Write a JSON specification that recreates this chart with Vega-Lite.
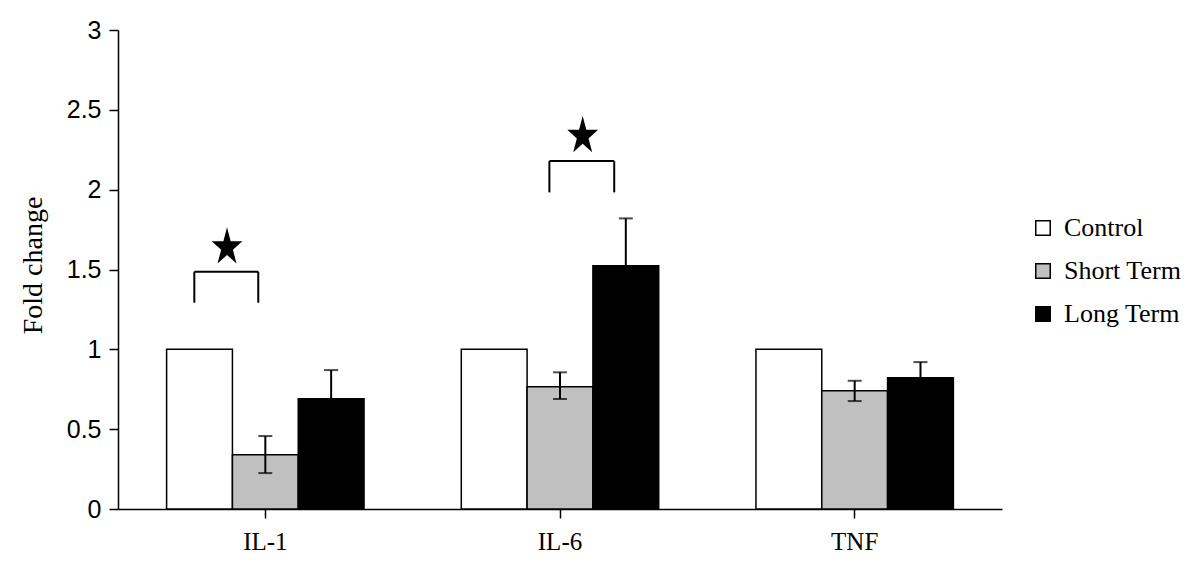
{
  "$schema": "https://vega.github.io/schema/vega-lite/v6.json",
  "width": 884,
  "height": 479,
  "autosize": {"type": "none"},
  "padding": {"left": 118, "top": 30, "right": 198, "bottom": 70},
  "background": "white",
  "config": {
    "view": {"stroke": null},
    "axis": {"grid": false, "domainColor": "black", "tickColor": "black", "labelColor": "black", "titleColor": "black", "domainWidth": 1.5, "tickWidth": 1.5}
  },
  "datasets": {
    "bars": [
      {"gene": "IL-1", "group": "Control", "value": 1},
      {"gene": "IL-1", "group": "Short Term", "value": 0.34, "lo": 0.225, "hi": 0.457},
      {"gene": "IL-1", "group": "Long Term", "value": 0.69, "lo": 0.51, "hi": 0.87},
      {"gene": "IL-6", "group": "Control", "value": 1},
      {"gene": "IL-6", "group": "Short Term", "value": 0.766, "lo": 0.689, "hi": 0.856},
      {"gene": "IL-6", "group": "Long Term", "value": 1.523, "lo": 1.226, "hi": 1.82},
      {"gene": "TNF", "group": "Control", "value": 1},
      {"gene": "TNF", "group": "Short Term", "value": 0.741, "lo": 0.676, "hi": 0.803},
      {"gene": "TNF", "group": "Long Term", "value": 0.822, "lo": 0.724, "hi": 0.92}
    ],
    "brackets": [
      {"x": 0.259, "x2": 0.476, "y": 1.486, "y2": 1.486},
      {"x": 0.259, "x2": 0.259, "y": 1.292, "y2": 1.486},
      {"x": 0.476, "x2": 0.476, "y": 1.292, "y2": 1.486},
      {"x": 1.464, "x2": 1.684, "y": 2.179, "y2": 2.179},
      {"x": 1.464, "x2": 1.464, "y": 1.983, "y2": 2.179},
      {"x": 1.684, "x2": 1.684, "y": 1.983, "y2": 2.179}
    ],
    "stars": [
      {"x": 0.37, "y": 1.639},
      {"x": 1.577, "y": 2.336}
    ]
  },
  "layer": [
    {
      "data": {"name": "bars"},
      "layer": [
        {
          "mark": {"type": "bar", "stroke": "black", "strokeWidth": 1.5},
          "encoding": {
            "x": {"field": "gene", "type": "nominal", "sort": ["IL-1", "IL-6", "TNF"], "scale": {"paddingInner": 0.33, "paddingOuter": 0.165},
              "axis": {"title": null, "labelAngle": 0, "labelFont": "Liberation Serif", "labelFontSize": 25, "tickSize": 9, "labelPadding": 11}},
            "xOffset": {"field": "group", "type": "nominal", "sort": ["Control", "Short Term", "Long Term"], "scale": {"paddingInner": 0, "paddingOuter": 0}},
            "y": {"field": "value", "type": "quantitative", "title": "Fold change", "scale": {"domain": [0, 3], "nice": false},
              "axis": {"values": [0, 0.5, 1, 1.5, 2, 2.5, 3], "format": "~g", "labelFont": "Liberation Sans", "labelFontSize": 25, "tickSize": 9, "labelPadding": 8,
                "titleFont": "Liberation Serif", "titleFontSize": 28, "titleFontWeight": "normal", "titleX": -85, "titleY": 235, "titleBaseline": "middle", "titleAlign": "center"}},
            "fill": {"field": "group", "type": "nominal", "sort": ["Control", "Short Term", "Long Term"],
              "scale": {"domain": ["Control", "Short Term", "Long Term"], "range": ["white", "#c0c0c0", "black"]},
              "legend": {"orient": "none", "legendX": 912, "legendY": 185, "title": null, "symbolType": "square", "symbolSize": 210,
                "symbolStrokeColor": "black", "symbolStrokeWidth": 1.5, "labelFont": "Liberation Serif", "labelFontSize": 26, "labelColor": "black",
                "rowPadding": 17, "labelOffset": 8, "padding": 0}}
          }
        },
        {
          "transform": [{"filter": "isValid(datum.hi)"}],
          "mark": {"type": "rule", "color": "black", "strokeWidth": 2},
          "encoding": {
            "x": {"field": "gene", "type": "nominal", "sort": ["IL-1", "IL-6", "TNF"]},
            "xOffset": {"field": "group", "type": "nominal", "sort": ["Control", "Short Term", "Long Term"]},
            "y": {"field": "lo", "type": "quantitative", "title": "Fold change"},
            "y2": {"field": "hi"}
          }
        },
        {
          "transform": [{"filter": "isValid(datum.hi)"}],
          "mark": {"type": "tick", "color": "black", "size": 14, "thickness": 2},
          "encoding": {
            "x": {"field": "gene", "type": "nominal", "sort": ["IL-1", "IL-6", "TNF"]},
            "xOffset": {"field": "group", "type": "nominal", "sort": ["Control", "Short Term", "Long Term"]},
            "y": {"field": "hi", "type": "quantitative", "title": "Fold change"}
          }
        },
        {
          "transform": [{"filter": "isValid(datum.lo)"}],
          "mark": {"type": "tick", "color": "black", "size": 14, "thickness": 2},
          "encoding": {
            "x": {"field": "gene", "type": "nominal", "sort": ["IL-1", "IL-6", "TNF"]},
            "xOffset": {"field": "group", "type": "nominal", "sort": ["Control", "Short Term", "Long Term"]},
            "y": {"field": "lo", "type": "quantitative", "title": "Fold change"}
          }
        }
      ]
    },
    {
      "layer": [
        {
          "data": {"name": "brackets"},
          "mark": {"type": "rule", "color": "black", "strokeWidth": 2},
          "encoding": {
            "x": {"field": "x", "type": "quantitative", "scale": {"domain": [0, 3], "nice": false, "zero": false}, "axis": null},
            "x2": {"field": "x2"},
            "y": {"field": "y", "type": "quantitative", "title": "Fold change"},
            "y2": {"field": "y2"}
          }
        },
        {
          "data": {"name": "stars"},
          "mark": {"type": "point", "shape": "M0,-1L0.181,-0.309L0.767,-0.309L0.293,0.118L0.475,0.809L0,0.382L-0.475,0.809L-0.293,0.118L-0.767,-0.309L-0.181,-0.309Z", "filled": true, "fill": "black", "opacity": 1, "size": 1600, "strokeWidth": 0},
          "encoding": {
            "x": {"field": "x", "type": "quantitative"},
            "y": {"field": "y", "type": "quantitative", "title": "Fold change"}
          }
        }
      ]
    }
  ],
  "resolve": {"scale": {"x": "independent"}}
}
